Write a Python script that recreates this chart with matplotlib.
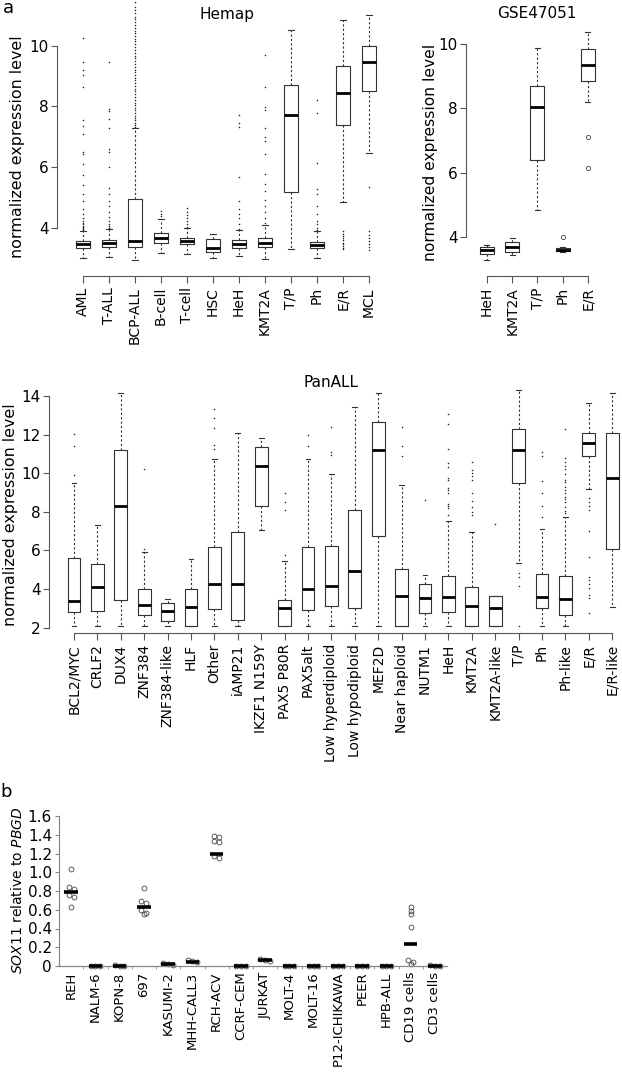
import numpy as np
import matplotlib.pyplot as plt

# Valores (paneles a y b)
hemap_groups = ['AML', 'T-ALL', 'BCP-ALL', 'B-cell', 'T-cell', 'HSC', 'HeH', 'KMT2A', 'T/P', 'Ph', 'E/R', 'MCL']
hemap_q1 = [3.31, 3.34, 3.37, 3.49, 3.44, 3.20, 3.31, 3.35, 5.18, 3.33, 7.40, 8.52]
hemap_med = [3.44, 3.48, 3.57, 3.66, 3.56, 3.31, 3.44, 3.48, 7.73, 3.43, 8.45, 9.48]
hemap_q3 = [3.56, 3.59, 4.94, 3.81, 3.66, 3.61, 3.60, 3.65, 8.70, 3.53, 9.35, 10.0]
hemap_lo = [3.00, 3.04, 2.92, 3.17, 3.12, 3.00, 3.06, 2.97, 3.29, 3.00, 4.83, 6.47]
hemap_hi = [3.89, 3.94, 7.28, 4.28, 3.97, 3.80, 3.91, 4.09, 10.54, 3.87, 10.87, 11.02]
hemap_fliers = [
    [3.92, 3.95, 3.98, 4.02, 4.06, 4.1, 4.15, 4.2, 4.3, 4.44, 4.6, 4.88, 5.1, 5.4, 5.75,
     6.1, 6.43, 6.5, 7.1, 7.37, 7.55, 8.64, 9.05, 9.2, 9.47, 10.27],
    [3.97, 4.0, 4.05, 4.1, 4.2, 4.35, 4.5, 4.7, 4.88, 5.1, 5.3, 6.0, 6.49, 6.6, 7.3, 7.6,
     7.85, 7.92, 9.47],
    [7.33, 7.4, 7.47, 7.55, 7.62, 7.7, 7.78, 7.87, 7.95, 8.05, 8.13, 8.22, 8.31, 8.4, 8.5,
     8.58, 8.67, 8.77, 8.86, 8.95, 9.05, 9.13, 9.22, 9.32, 9.41, 9.5, 9.6, 9.68, 9.77, 9.87,
     9.96, 10.05, 10.15, 10.23, 10.33, 10.42, 10.5, 10.6, 10.7, 10.78, 10.88, 10.97, 11.08,
     11.2, 11.3, 11.45],
    [4.39, 4.45, 4.53],
    [4.02, 4.1, 4.2, 4.3, 4.4, 4.5, 4.64],
    [],
    [3.95, 4.1, 4.3, 4.45, 4.62, 4.88, 5.66, 7.31, 7.45, 7.73],
    [4.15, 4.3, 4.5, 4.7, 4.9, 5.2, 5.45, 5.77, 6.43, 6.85, 6.98, 7.3, 7.9, 7.98, 8.66, 9.69],
    [],
    [3.92, 4.0, 4.1, 4.2, 4.45, 4.72, 5.1, 5.27, 6.12, 7.78, 8.23],
    [3.28, 3.33, 3.4, 3.45, 3.5, 3.58, 3.65, 3.72, 3.8, 3.89],
    [3.25, 3.35, 3.45, 3.55, 3.65, 3.75, 3.9, 5.35],
]

gse_groups = ['HeH', 'KMT2A', 'T/P', 'Ph', 'E/R']
gse_q1 = [3.49, 3.55, 6.41, 3.57, 8.84]
gse_med = [3.60, 3.71, 8.05, 3.62, 9.36]
gse_q3 = [3.69, 3.86, 8.69, 3.67, 9.85]
gse_lo = [3.29, 3.47, 4.86, 3.55, 8.20]
gse_hi = [3.78, 3.97, 9.88, 3.69, 10.36]
gse_fliers = [[], [], [], [4.0], [7.11, 6.14]]

pan_groups = ['BCL2/MYC', 'CRLF2', 'DUX4', 'ZNF384', 'ZNF384-like', 'HLF', 'Other', 'iAMP21',
              'IKZF1 N159Y', 'PAX5 P80R', 'PAX5alt', 'Low hyperdiploid', 'Low hypodiploid',
              'MEF2D', 'Near haploid', 'NUTM1', 'HeH', 'KMT2A', 'KMT2A-like', 'T/P', 'Ph',
              'Ph-like', 'E/R', 'E/R-like']
pan_q1 = [2.79, 2.86, 3.41, 2.65, 2.36, 2.08, 2.95, 2.39, 8.30, 2.08, 2.91, 3.14,
          3.00, 6.75, 2.08, 2.74, 2.83, 2.08, 2.08, 9.47, 3.03, 2.64, 10.87, 6.06]
pan_med = [3.36, 4.09, 8.28, 3.19, 2.84, 3.05, 4.24, 4.24, 10.39, 3.03, 3.98, 4.16,
           4.95, 11.18, 3.64, 3.52, 3.60, 3.10, 3.00, 11.18, 3.60, 3.48, 11.55, 9.77]
pan_q3 = [5.59, 5.28, 11.18, 3.98, 3.26, 3.98, 6.19, 6.94, 11.37, 3.43, 6.19, 6.23,
          8.09, 12.67, 5.02, 4.26, 4.69, 4.10, 3.65, 12.27, 4.79, 4.69, 12.08, 12.08]
pan_lo = [2.08, 2.08, 2.08, 2.08, 2.08, 2.08, 2.08, 2.08, 7.04, 2.08, 2.08, 2.08,
          2.08, 2.08, 2.08, 2.08, 2.08, 2.08, 2.08, 5.36, 2.08, 2.08, 9.16, 3.08]
pan_hi = [9.51, 7.30, 14.17, 5.90, 3.46, 5.55, 10.74, 12.07, 11.82, 5.45, 10.74, 9.96,
          13.45, 14.14, 9.39, 4.73, 7.51, 6.94, 3.65, 14.33, 7.11, 7.75, 13.62, 14.17]
pan_fliers = [
    [9.91, 11.43, 12.03], [], [], [6.07, 10.22], [], [],
    [11.24, 11.46, 12.36, 12.88, 13.31], [], [],
    [5.76, 8.09, 8.52, 8.96], [11.43, 11.96], [10.93, 11.1, 12.39], [], [],
    [10.89, 11.41, 12.38], [8.61],
    [7.83, 8.18, 8.30, 8.40, 8.96, 9.13, 9.22, 9.65, 9.73, 10.30, 10.51, 11.24, 12.53, 13.07],
    [7.83, 8.01, 8.27, 8.58, 8.96, 9.65, 9.87, 9.99, 10.17, 10.6],
    [7.35],
    [2.08, 4.17, 4.64, 4.85],
    [7.75, 8.30, 8.96, 9.61, 10.89, 11.12],
    [7.92, 8.04, 8.27, 8.52, 8.65, 8.78, 8.96, 9.13, 9.30, 9.56, 9.65, 9.96, 10.2, 10.37,
     10.6, 10.8, 12.27],
    [2.74, 3.52, 3.69, 4.03, 4.26, 4.47, 4.64, 5.68, 7.02, 8.09, 8.30, 8.52, 8.70],
    [],
]

cells = ['REH', 'NALM-6', 'KOPN-8', '697', 'KASUMI-2', 'MHH-CALL3', 'RCH-ACV', 'CCRF-CEM',
         'JURKAT', 'MOLT-4', 'MOLT-16', 'P12-ICHIKAWA', 'PEER', 'HPB-ALL', 'CD19 cells', 'CD3 cells']
sox11_mean = [0.79, 0.0, 0.005, 0.625, 0.02, 0.045, 1.20, 0.0, 0.065, 0.0, 0.0, 0.0, 0.0,
              0.0, 0.24, 0.005]
sox11_reps = [
    [1.03, 0.84, 0.82, 0.76, 0.74, 0.63],
    [0.0, 0.0, 0.005],
    [0.0, 0.005, 0.01],
    [0.83, 0.69, 0.67, 0.60, 0.57, 0.56],
    [0.02, 0.03, 0.01],
    [0.05, 0.04, 0.06],
    [1.39, 1.38, 1.33, 1.32, 1.17, 1.15],
    [0.0, 0.0, 0.0],
    [0.07, 0.05, 0.06],
    [0.0, 0.0, 0.0],
    [0.0, 0.0, 0.0],
    [0.0, 0.0, 0.0],
    [0.0, 0.0, 0.0],
    [0.0, 0.0, 0.0],
    [0.63, 0.59, 0.55, 0.42, 0.06, 0.04, 0.02],
    [0.0, 0.01, 0.005],
]

W, H = 622, 1073
fig = plt.figure(figsize=(W / 100, H / 100), dpi=100)
GREY = '#555555'


def px_axes(x0, y0, x1, y1):
    # ejes colocados en coordenadas de píxel de la imagen
    return fig.add_axes([x0 / W, 1 - y1 / H, (x1 - x0) / W, (y1 - y0) / H])


def px_text(x, y, s, **kw):
    fig.text(x / W, 1 - y / H, s, **kw)


def boxplot(ax, names, q1, med, q3, lo, hi, fliers, flier_style, yticks, fs_x):
    st = [dict(label=n, q1=a, med=b, q3=c, whislo=d, whishi=e, fliers=f)
          for n, a, b, c, d, e, f in zip(names, q1, med, q3, lo, hi, fliers)]
    n = len(st)
    ax.bxp(st, positions=range(1, n + 1), widths=0.55, capwidths=0.2, manage_ticks=False,
           boxprops=dict(color='#333333', lw=0.8),
           medianprops=dict(color='black', lw=2.0, solid_capstyle='butt'),
           whiskerprops=dict(color='#333333', lw=0.8, linestyle=(0, (2, 2))),
           capprops=dict(color='#333333', lw=0.8),
           flierprops=flier_style)
    for s in ['top', 'right']:
        ax.spines[s].set_visible(False)
    for s in ['left', 'bottom']:
        ax.spines[s].set_color(GREY)
        ax.spines[s].set_linewidth(0.8)
    ax.spines['left'].set_bounds(yticks[0], yticks[-1])
    ax.spines['bottom'].set_bounds(1, n)
    ax.set_yticks(yticks)
    ax.set_xticks(range(1, n + 1))
    ax.set_xticklabels(names, rotation=90, fontsize=fs_x)
    ax.tick_params(axis='y', labelsize=11, length=4, width=0.8, color=GREY, pad=2)
    ax.tick_params(axis='x', length=5, width=0.8, color=GREY, pad=3)
    ax.patch.set_visible(False)


dot = dict(marker='.', markersize=2.2, markerfacecolor='#222222', markeredgecolor='none')
circ = dict(marker='o', markersize=3, markerfacecolor='none', markeredgecolor='#444444',
            markeredgewidth=0.6)

# Hemap
ax1 = px_axes(57, 0, 395, 276)
boxplot(ax1, hemap_groups, hemap_q1, hemap_med, hemap_q3, hemap_lo, hemap_hi, hemap_fliers,
        dot, [4, 6, 8, 10], 10)
ax1.set_xlim(0, 13)
ax1.set_ylim(2.397, 11.52)
px_text(227, 15, 'Hemap', ha='center', va='center', fontsize=11)
px_text(18, 147, 'normalized expression level', rotation=90, ha='center', va='center', fontsize=11.4)

# GSE47051
ax2 = px_axes(466, 0, 603, 276)
boxplot(ax2, gse_groups, gse_q1, gse_med, gse_q3, gse_lo, gse_hi, gse_fliers,
        circ, [4, 6, 8, 10], 10)
ax2.set_xlim(0.17, 5.6)
ax2.set_ylim(2.806, 11.36)
px_text(537, 13, 'GSE47051', ha='center', va='center', fontsize=11)
px_text(430, 152, 'normalized expression level', rotation=90, ha='center', va='center', fontsize=11.2)

# PanALL
ax3 = px_axes(49, 375, 622, 633)
boxplot(ax3, pan_groups, pan_q1, pan_med, pan_q3, pan_lo, pan_hi, pan_fliers,
        dot, [2, 4, 6, 8, 10, 12, 14], 10)
ax3.set_xlim(-0.07, 24.42)
ax3.set_ylim(1.72, 15.09)
px_text(331, 383, 'PanALL', ha='center', va='center', fontsize=11)
px_text(11, 515, 'normalized expression level', rotation=90, ha='center', va='center', fontsize=11.4)

# Panel b: SOX11 qPCR
ax4 = px_axes(59, 816, 447, 966)
pos = np.arange(len(cells))
for i, vals in enumerate(sox11_reps):
    v = np.sort(np.array(vals))[::-1]
    xs = np.full(len(v), float(i))
    # separar puntos casi iguales (tipo beeswarm)
    j = 0
    while j < len(v):
        k = j
        while k + 1 < len(v) and abs(v[k + 1] - v[j]) < 0.035:
            k += 1
        m = k - j + 1
        if m > 1:
            xs[j:k + 1] = i + (np.arange(m) - (m - 1) / 2) * 0.2
        j = k + 1
    ax4.plot(xs, v, linestyle='none', clip_on=False, **dict(circ, markersize=3.5))
ax4.hlines(sox11_mean, pos - 0.28, pos + 0.28, color='black', lw=2.6, zorder=3, clip_on=False)
ax4.set_xlim(-0.5, len(cells) - 0.5)
ax4.set_ylim(0, 1.6)
for s in ['top', 'right']:
    ax4.spines[s].set_visible(False)
for s in ['left', 'bottom']:
    ax4.spines[s].set_color('#888888')
    ax4.spines[s].set_linewidth(0.9)
ax4.set_yticks(np.arange(0, 1.61, 0.2))
ax4.set_yticklabels(['0'] + ['%.1f' % t for t in np.arange(0.2, 1.61, 0.2)])
ax4.set_xticks(pos)
ax4.set_xticklabels(cells, rotation=90, fontsize=9.5)
ax4.set_xticks(np.arange(0.5, len(cells) - 1, 1.0), minor=True)
ax4.tick_params(axis='x', which='major', length=0, pad=4)
ax4.tick_params(axis='x', which='minor', length=2.5, color='#888888')
ax4.tick_params(axis='y', labelsize=11, length=3, color='#888888', pad=2)
ax4.patch.set_visible(False)
px_text(18, 890, r'$\mathit{SOX11}$ relative to $\mathit{PBGD}$', rotation=90,
        ha='center', va='center', fontsize=10)

# letras de panel
px_text(8, 8, 'a', ha='center', va='center', fontsize=13)
px_text(6, 792, 'b', ha='center', va='center', fontsize=13)

fig.savefig('out.png', dpi=100)
